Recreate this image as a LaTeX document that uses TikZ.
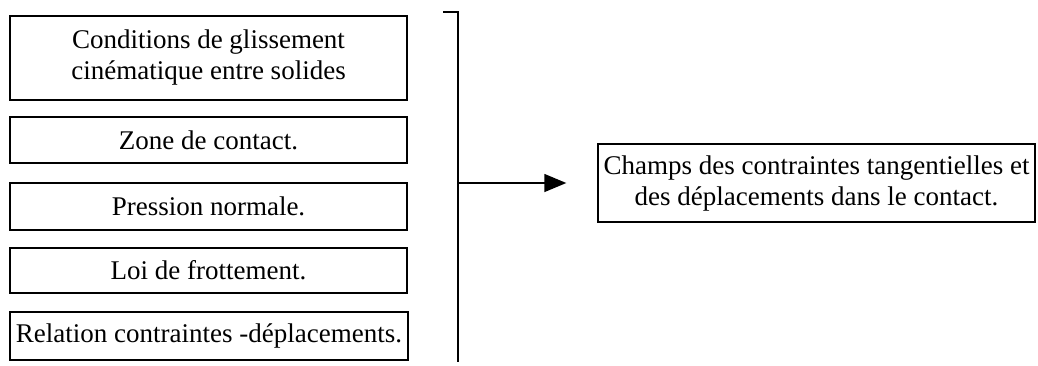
\documentclass[tikz,border=0pt]{standalone}
\usepackage{fontspec}
\setmainfont{Liberation Serif}
\usetikzlibrary{arrows.meta}
\begin{document}
\begin{tikzpicture}[x=1pt,y=-1pt,
  box/.style={draw=black, line width=1.4pt, align=center, inner sep=0pt,
    font=\fontsize{27}{31}\selectfont},
  conn/.style={line width=1.4pt}]
\useasboundingbox (0,0) rectangle (1038,365);
\node[box, minimum width=397pt, minimum height=84pt] (b1) at (208.5,58) {Conditions de glissement\\cinématique entre solides};
\node[box, minimum width=397pt, minimum height=46pt] (b2) at (208.5,140) {Zone de contact.};
\node[box, minimum width=397pt, minimum height=47pt] (b3) at (208.5,206.5) {Pression normale.};
\node[box, minimum width=397pt, minimum height=45pt] (b4) at (208.5,270.5) {Loi de frottement.};
\node[box, minimum width=398pt, minimum height=48pt] (b5) at (209,336) {Relation contraintes -déplacements.};
\node[box, minimum width=437pt, minimum height=78pt] (rb) at (816.5,183) {Champs des contraintes tangentielles et\\des déplacements dans le contact.};
\coordinate (t0) at (443,12);
\coordinate (t1) at (458,12);
\coordinate (t2) at (458,362);
\coordinate (j) at (458,183);
\draw[conn] (t0) -- (t1) -- (t2);
\draw[conn, -{Triangle[length=22pt,width=18pt]}, shorten >=31pt] (j) -- (rb.west);
\end{tikzpicture}
\end{document}
